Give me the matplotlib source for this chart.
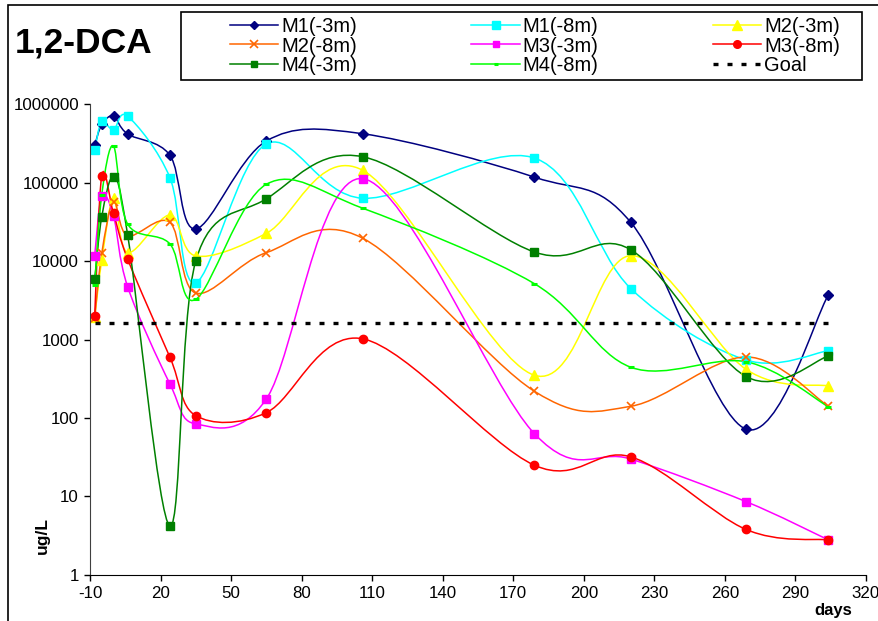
import numpy as np
import matplotlib
matplotlib.use('Agg')
import matplotlib.pyplot as plt
from matplotlib.path import Path
from matplotlib.patches import PathPatch, Rectangle
from matplotlib.lines import Line2D
from matplotlib.ticker import FixedLocator, FuncFormatter

plt.rcParams['font.family'] = ['Liberation Sans', 'DejaVu Sans']
plt.rcParams['axes.unicode_minus'] = False

# sampling days
days = [-8, -5, 0, 6, 24, 35, 65, 106, 179, 220, 269, 304]

# concentrations (ug/L)
m1_3 = [297000, 550000, 700000, 415000, 222000, 25600, 338000, 418000, 117000, 31000, 72, 3690]
m1_8 = [262000, 600000, 467000, 700000, 115000, 5300, 310000, 63000, 205000, 4450, 548, 720]
m2_3 = [1950, 10200, 63000, 12800, 38500, 11600, 22500, 143000, 350, 11700, 417, 256]
m2_8 = [1900, 12500, 57000, 21000, 31000, 3900, 12800, 19500, 219, 141, 600, 141]
m3_3 = [11700, 67000, 37400, 4700, 271, 84, 175, 112000, 63, 30, 8.6, 2.8]
m3_8 = [1990, 122000, 40500, 10600, 593, 107, 117, 1020, 25, 32, 3.8, 2.8]
m4_3 = [5900, 36600, 117000, 21600, 4.2, 10100, 62000, 213000, 13000, 13900, 337, 615]
m4_8 = [4900, 70000, 290000, 29600, 16500, 3250, 95000, 47000, 5140, 443, 521, 139]
goal = 1600

series_names = ['M1(-3m)', 'M1(-8m)', 'M2(-3m)', 'M2(-8m)', 'M3(-3m)', 'M3(-8m)', 'M4(-3m)', 'M4(-8m)']
series_vals = [m1_3, m1_8, m2_3, m2_8, m3_3, m3_8, m4_3, m4_8]
colors = ['#000080', '#00FFFF', '#FFFF00', '#FF6600', '#FF00FF', '#FF0000', '#008000', '#00FF00']
markers = ['D', 's', '^', 'x', 's', 'o', 's', '_']
msizes = [5, 6, 7, 6, 5.5, 6, 5.5, 4]


def smooth_path(xs, ys):
    # Excel-style smoothed line: cubic bezier through the points (in x / log y)
    pts = np.column_stack([np.asarray(xs, float), np.log10(ys)])
    pad = np.vstack([pts[0], pts, pts[-1]])
    verts = [pts[0]]
    codes = [Path.MOVETO]
    for i in range(len(pts) - 1):
        p0, p1, p2, p3 = pad[i], pad[i + 1], pad[i + 2], pad[i + 3]
        verts += [p1 + (p2 - p0) / 6.0, p2 - (p3 - p1) / 6.0, p2]
        codes += [Path.CURVE4] * 3
    verts = np.array(verts)
    verts[:, 1] = 10 ** verts[:, 1]
    return Path(verts, codes)


fig = plt.figure(figsize=(8.79, 6.21), dpi=100)
ax = fig.add_axes([0.1024, 0.0741, 0.8828, 0.7584])
ax.set_yscale('log')

handles = []
for name, vals, c, m, ms in zip(series_names, series_vals, colors, markers, msizes):
    ax.add_patch(PathPatch(smooth_path(days, vals), fill=False, edgecolor=c, lw=1.1))
    mew = 1.2 if m == 'x' else (2.2 if m == '_' else 1)
    ax.plot(days, vals, linestyle='none', marker=m, ms=ms, color=c, mec=c, mew=mew)
    handles.append(Line2D([], [], color=c, lw=1.1, marker=m, ms=ms - 0.5, mec=c, mew=mew))

ax.plot([days[0], days[-1]], [goal, goal], color='black', lw=2.4, linestyle=(0, (1.5, 2.7)))
handles.append(Line2D([], [], color='black', lw=2.4, linestyle=(0, (1.5, 2.7))))
labels = series_names + ['Goal']

ax.set_xlim(-10, 320)
ax.set_ylim(1, 1000000)
ax.xaxis.set_major_locator(FixedLocator(range(-10, 321, 30)))
ax.yaxis.set_major_locator(FixedLocator([1, 10, 100, 1000, 10000, 100000, 1000000]))
ax.yaxis.set_minor_locator(FixedLocator([]))
ax.yaxis.set_major_formatter(FuncFormatter(lambda v, p: '%d' % round(v)))
ax.tick_params(axis='both', direction='out', length=4, width=1, labelsize=12.2, pad=4)
for s in ['top', 'right']:
    ax.spines[s].set_visible(False)
ax.spines['left'].set_color('#404040')

# legend, row-wise order like the original
order = [0, 3, 6, 1, 4, 7, 2, 5, 8]
leg = fig.legend([handles[i] for i in order], [labels[i] for i in order],
                 loc='center left', bbox_to_anchor=(230 / 879, 1 - 76 / 621, 610 / 879, 60 / 621),
                 mode='expand', ncol=3, fontsize=14.5, handlelength=2.4, handletextpad=0.15,
                 labelspacing=0.02, borderpad=0, borderaxespad=0, frameon=False)
fig.patches.append(Rectangle((181 / 879, 1 - 80 / 621), 681 / 879, 68 / 621,
                             transform=fig.transFigure, fill=False, edgecolor='black', lw=1.2))

fig.text(15 / 879, 1 - 53 / 621, '1,2-DCA', fontsize=25.5, fontweight='bold', ha='left', va='baseline')
fig.text(42 / 879, 1 - 535 / 621, 'ug/L', fontsize=12.5, fontweight='bold', rotation=90, ha='center', va='center')
fig.text(833 / 879, 1 - 611 / 621, 'days', fontsize=12, fontweight='bold', ha='center', va='center')

# chart area border
fig.patches.append(Rectangle((8 / 879, -0.05), 1.1, 1 - 5 / 621 + 0.05, transform=fig.transFigure,
                             fill=False, edgecolor='black', lw=1.2))

fig.savefig('out.png', dpi=100)
